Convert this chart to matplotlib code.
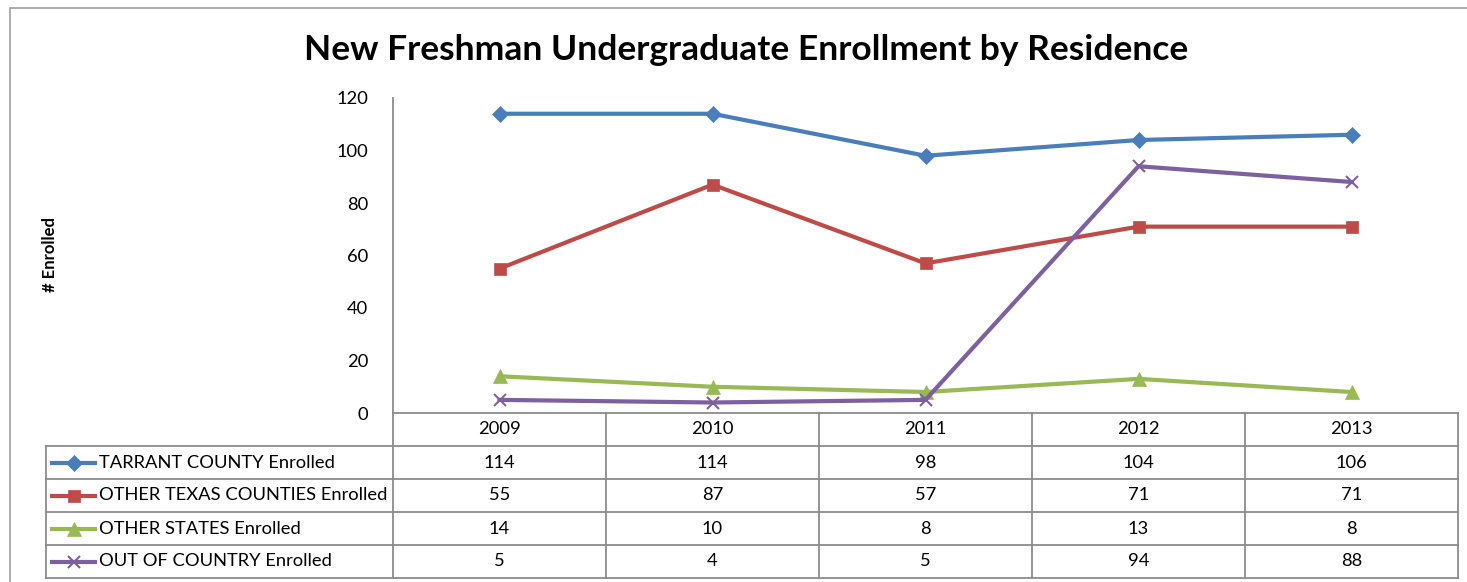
import matplotlib.pyplot as plt
from matplotlib.lines import Line2D
from matplotlib.patches import Rectangle

plt.rcParams['font.family'] = ['Lato', 'DejaVu Sans']

years = ['2009', '2010', '2011', '2012', '2013']
tarrant = [114, 114, 98, 104, 106]
other_tx = [55, 87, 57, 71, 71]
other_states = [14, 10, 8, 13, 8]
out_country = [5, 4, 5, 94, 88]

series = [
    ('TARRANT COUNTY Enrolled', tarrant, '#4A7EBB', 'D', 8),
    ('OTHER TEXAS COUNTIES Enrolled', other_tx, '#BE4B48', 's', 8.5),
    ('OTHER STATES Enrolled', other_states, '#98B954', '^', 9.5),
    ('OUT OF COUNTRY Enrolled', out_country, '#7D60A0', 'x', 9),
]

W, H = 1467, 582
fs = 13.2
fig = plt.figure(figsize=(W / 100, H / 100), dpi=100)

def box(x0, y0, x1, y1):
    # pixel box (top-left origin) -> figure fraction rect
    return [x0 / W, 1 - y1 / H, (x1 - x0) / W, (y1 - y0) / H]

grid_col = '#8c8c8c'

# outer chart border
fig.patches.append(Rectangle((10 / W, -0.1), 1.2, 1 - 8 / H + 0.1,
                             transform=fig.transFigure, fill=False,
                             edgecolor='#a0a0a0', linewidth=1.2))

ax = fig.add_axes(box(393, 98, 1458, 413))
x = list(range(len(years)))
for name, vals, col, mk, ms in series:
    ax.plot(x, vals, color=col, linewidth=3, marker=mk, markersize=ms,
            markeredgewidth=1.5 if mk == 'x' else 0.5, markeredgecolor=col)

ax.set_xlim(-0.5, len(years) - 0.5)
ax.set_ylim(0, 120)
ax.set_yticks(range(0, 121, 20))
ax.set_xticks([])
ax.tick_params(axis='y', length=0, labelsize=fs, pad=18)
for s in ['top', 'right']:
    ax.spines[s].set_visible(False)
ax.spines['left'].set_color(grid_col)
ax.spines['bottom'].set_color(grid_col)
ax.spines['left'].set_linewidth(1.3)
ax.spines['bottom'].set_linewidth(1.3)

fig.text(50 / W, 1 - 255 / H, '# Enrolled', rotation=90, ha='center',
         va='center', fontsize=12, fontweight='bold')
fig.text(746 / W, 1 - 50 / H, 'New Freshman Undergraduate Enrollment by Residence',
         ha='center', va='center', fontsize=25.5, fontweight='bold')

# data table, sharing x scale with the plot
lab_w = (393 - 46) / ((1458 - 393) / len(years))
tab = fig.add_axes(box(46, 413, 1458, 578))
tab.set_xlim(-0.5 - lab_w, len(years) - 0.5)
tab.set_ylim(len(series) + 1, 0)
tab.axis('off')

lk = dict(color=grid_col, linewidth=1.3, clip_on=False)
for i in range(len(years) + 1):
    tab.plot([i - 0.5, i - 0.5], [0, len(series) + 1], **lk)
for j in range(1, len(series) + 2):
    tab.plot([-0.5 - lab_w, len(years) - 0.5], [j, j], **lk)
tab.plot([-0.5 - lab_w, -0.5 - lab_w], [1, len(series) + 1], **lk)

for i, yr in enumerate(years):
    tab.text(i, 0.5, yr, ha='center', va='center', fontsize=fs)

kx0 = -0.5 - lab_w + 0.03
kx1 = kx0 + 0.2
for j, (name, vals, col, mk, ms) in enumerate(series):
    row = j + 1.5
    tab.add_line(Line2D([kx0, kx1], [row, row], color=col, linewidth=3,
                        clip_on=False))
    tab.plot([(kx0 + kx1) / 2], [row], marker=mk, color=col, markersize=ms,
             markeredgewidth=1.5 if mk == 'x' else 0.5, markeredgecolor=col,
             clip_on=False)
    tab.text(kx1 + 0.02, row, name, ha='left', va='center', fontsize=fs)
    for i, v in enumerate(vals):
        tab.text(i, row, str(v), ha='center', va='center', fontsize=fs)

fig.savefig('out.png', dpi=100)
